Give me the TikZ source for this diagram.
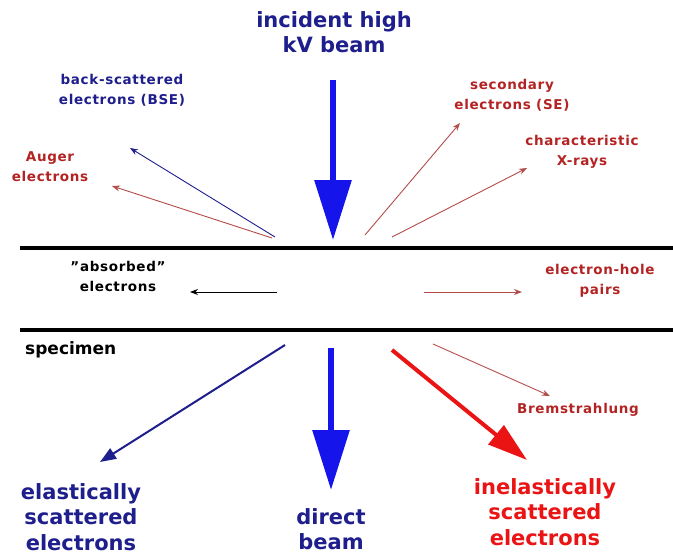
\documentclass[tikz,border=0pt]{standalone}
\usepackage{fontspec}
\setmainfont{DejaVu Sans}
\usetikzlibrary{arrows.meta}

\definecolor{navy}{RGB}{30,30,140}
\definecolor{beamblue}{RGB}{20,20,235}
\definecolor{darkred}{RGB}{180,35,35}
\definecolor{thinred}{RGB}{180,75,75}
\definecolor{brightred}{RGB}{235,20,20}

\tikzset{
  smalllbl/.style={align=center, inner sep=0pt,
    font=\fontsize{13.5}{20}\selectfont\bfseries\addfontfeatures{LetterSpace=5}},
  biglbl/.style={align=center, inner sep=0pt, font=\fontsize{21}{25.5}\selectfont\bfseries},
  ray/.style={-{Stealth[length=8pt,width=6pt]}, line width=0.9pt},
  beam/.style={-{Triangle[length=60pt,width=36pt]}, line width=6pt, beamblue},
  surface/.style={line width=4pt},
}

\begin{document}
\begin{tikzpicture}[x=1pt, y=-1pt]
    \useasboundingbox[fill=white] (0,0) rectangle (673,555);

    % Incident beam
    \node[biglbl, navy] (incident) at (334,32) {incident high\\kV beam};
    \coordinate (beamtop) at (333,80);
    \coordinate (hit) at (333,240);
    \draw[beam] (beamtop) -- (hit);

    % Specimen surfaces
    \coordinate (topL) at (20,248);
    \coordinate (topR) at (673,248);
    \coordinate (botL) at (20,330);
    \coordinate (botR) at (673,330);
    \draw[surface] (topL) -- (topR);
    \draw[surface] (botL) -- (botR);
    \node[anchor=west, inner sep=0pt, font=\fontsize{17}{20}\selectfont\bfseries] (specimen) at (25,350) {specimen};

    % Signals above the specimen
    \node[smalllbl, navy] (bse) at (122,90) {back-scattered\\electrons (BSE)};
    \node[smalllbl, darkred] (auger) at (50,167) {Auger\\electrons};
    \node[smalllbl, darkred] (se) at (512,95) {secondary\\electrons (SE)};
    \node[smalllbl, darkred] (xrays) at (582,152) {characteristic\\X-rays};
    \coordinate (bseS) at (275,237);  \coordinate (bseE) at (130,148);
    \coordinate (augS) at (272,238);  \coordinate (augE) at (112,186);
    \coordinate (seS) at (365,235);   \coordinate (seE) at (460,123);
    \coordinate (xS) at (392,237);    \coordinate (xE) at (527,168);
    \draw[ray, navy] (bseS) -- (bseE);
    \draw[ray, thinred] (augS) -- (augE);
    \draw[ray, thinred] (seS) -- (seE);
    \draw[ray, thinred] (xS) -- (xE);

    % Inside the specimen
    \node[smalllbl] (absorbed) at (118,276) {"absorbed"\\electrons};
    \node[smalllbl, darkred] (pairs) at (600,281) {electron-hole\\pairs};
    \coordinate (absS) at (277,292);  \coordinate (absE) at (190,292);
    \coordinate (ehS) at (424,292);   \coordinate (ehE) at (522,292);
    \draw[ray] (absS) -- (absE);
    \draw[ray, thinred] (ehS) -- (ehE);

    % Signals below the specimen
    \node[biglbl, navy] (elastic) at (81,517) {elastically\\scattered\\electrons};
    \node[biglbl, navy] (direct) at (331,529) {direct\\beam};
    \node[biglbl, brightred] (inelastic) at (545,512) {inelastically\\scattered\\electrons};
    \node[smalllbl, darkred] (brems) at (578,410) {Bremstrahlung};
    \coordinate (elS) at (285,345);   \coordinate (elE) at (100,462);
    \coordinate (dirS) at (331,348);  \coordinate (dirE) at (331,490);
    \coordinate (inS) at (392,350);   \coordinate (inE) at (527,460);
    \coordinate (brS) at (433,344);   \coordinate (brE) at (550,396);
    \draw[navy, line width=2pt, -{Triangle[length=16pt,width=12pt]}] (elS) -- (elE);
    \draw[beam] (dirS) -- (dirE);
    \draw[brightred, line width=4pt, -{Triangle[length=40pt,width=24pt]}] (inS) -- (inE);
    \draw[ray, thinred] (brS) -- (brE);
\end{tikzpicture}
\end{document}
